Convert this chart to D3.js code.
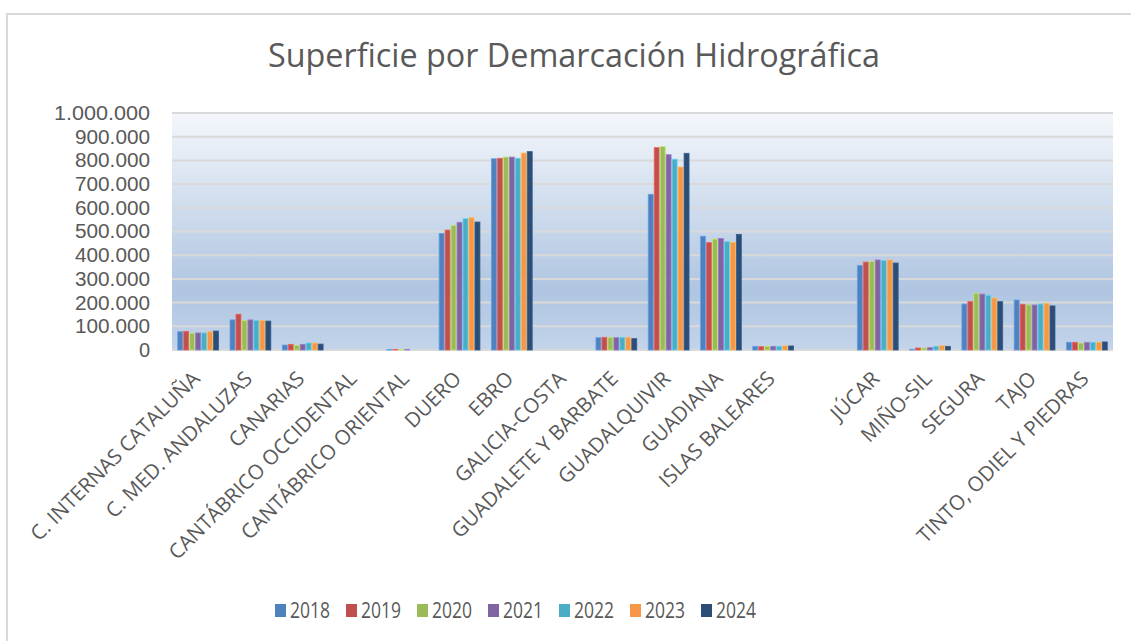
<!DOCTYPE html>
<html>
<head>
<meta charset="utf-8">
<script src="https://cdn.jsdelivr.net/npm/d3@7"></script>
<style>
  body { margin: 0; background: #fff; }
  svg { display: block; font-family: "Open Sans", sans-serif; }
</style>
</head>
<body>
<div id="chart"></div>
<script>
var categories = ["C. INTERNAS CATALUÑA", "C. MED. ANDALUZAS", "CANARIAS", "CANTÁBRICO OCCIDENTAL",
  "CANTÁBRICO ORIENTAL", "DUERO", "EBRO", "GALICIA-COSTA", "GUADALETE Y BARBATE", "GUADALQUIVIR",
  "GUADIANA", "ISLAS BALEARES", "", "JÚCAR", "MIÑO-SIL", "SEGURA", "TAJO", "TINTO, ODIEL Y PIEDRAS"];

var years = ["2018", "2019", "2020", "2021", "2022", "2023", "2024"];

var v2018 = [77000, 127000, 21000, 0, 2500, 492000, 807000, 0, 52000, 657000, 480000, 15500, 0, 357000, 3000, 194000, 211000, 32500];
var v2019 = [79000, 151000, 24000, 0, 2500, 506000, 809000, 0, 53500, 854000, 453000, 14000, 0, 371000, 8500, 204000, 193000, 32500];
var v2020 = [71000, 124000, 20000, 0, 2000, 526000, 814000, 0, 53500, 858000, 468000, 15500, 0, 374000, 8500, 240000, 190000, 29500];
var v2021 = [72000, 127000, 24000, 0, 2000, 539000, 814000, 0, 52000, 824000, 471000, 15500, 0, 380000, 10000, 236000, 190000, 32500];
var v2022 = [72000, 124000, 29500, 0, 0, 554000, 809000, 0, 53500, 805000, 457000, 15500, 0, 377000, 15500, 231000, 194000, 32500];
var v2023 = [77000, 124000, 29500, 0, 0, 558000, 831000, 0, 53500, 772000, 454000, 17000, 0, 380000, 18000, 219000, 197000, 32500];
var v2024 = [80000, 122000, 25000, 0, 0, 540000, 837000, 0, 48000, 830000, 488000, 17000, 0, 367000, 15500, 204000, 186000, 34000];

var yTicks = [0, 100000, 200000, 300000, 400000, 500000, 600000, 700000, 800000, 900000, 1000000];

var seriesValues = [v2018, v2019, v2020, v2021, v2022, v2023, v2024];
var colors = ["#4F81BD", "#C0504D", "#9BBB59", "#8064A2", "#4BACC6", "#F79646", "#2C4D75"];

var svgWidth = 1131, svgHeight = 641;
var margin = {top: 113, right: 18, bottom: 291, left: 172},
    width = svgWidth - margin.left - margin.right,
    height = svgHeight - margin.top - margin.bottom;

var textColor = "#595959";

var svg = d3.select("#chart").append("svg")
    .attr("width", svgWidth)
    .attr("height", svgHeight);

// outer frame (only left and top edges visible)
svg.append("path")
    .attr("d", "M7," + svgHeight + "V14H" + svgWidth)
    .attr("fill", "none")
    .attr("stroke", "#D9D9D9")
    .attr("stroke-width", 2);

// title
svg.append("text")
    .attr("x", 574)
    .attr("y", 67)
    .attr("text-anchor", "middle")
    .attr("font-size", 32)
    .attr("fill", textColor)
    .attr("textLength", 612)
    .attr("lengthAdjust", "spacingAndGlyphs")
    .text("Superficie por Demarcación Hidrográfica");

var defs = svg.append("defs");
var grad = defs.append("linearGradient")
    .attr("id", "bg")
    .attr("x1", 0).attr("y1", 0).attr("x2", 0).attr("y2", 1);
grad.append("stop").attr("offset", "0%").attr("stop-color", "#F4F7FB");
grad.append("stop").attr("offset", "75%").attr("stop-color", "#AFC5E1");
grad.append("stop").attr("offset", "100%").attr("stop-color", "#C3D4EA");

var g = svg.append("g")
    .attr("transform", "translate(" + margin.left + "," + margin.top + ")");

g.append("rect")
    .attr("width", width)
    .attr("height", height)
    .attr("fill", "url(#bg)");

var x0 = d3.scaleBand()
    .domain(categories)
    .range([0, width])
    .paddingInner(0.2)
    .paddingOuter(0.1);

var x1 = d3.scaleBand()
    .domain(years)
    .range([0, x0.bandwidth()])
    .padding(0);

var y = d3.scaleLinear()
    .domain([0, 1000000])
    .range([height, 0]);

var fmt = function(d) { return d3.format(",")(d).replace(/,/g, "."); };

// gridlines
g.selectAll(".grid")
    .data(yTicks)
    .enter().append("line")
    .attr("class", "grid")
    .attr("x1", 0)
    .attr("x2", width)
    .attr("y1", function(d) { return y(d); })
    .attr("y2", function(d) { return y(d); })
    .attr("stroke", "#D9D9D9")
    .attr("stroke-width", 2);

// y axis labels
var yAxis = d3.axisLeft(y)
    .tickValues(yTicks)
    .tickFormat(fmt)
    .tickSize(0)
    .tickPadding(22);

g.append("g")
    .attr("class", "y axis")
    .call(yAxis)
    .call(function(s) { s.select(".domain").remove(); })
    .selectAll("text")
    .attr("font-size", 20)
    .attr("font-family", "Liberation Sans")
    .attr("fill", textColor)
    .attr("textLength", function(d) { return d === 1000000 ? 96 : (d === 0 ? null : 75); })
    .attr("lengthAdjust", "spacingAndGlyphs");

// bars
var layer = g.selectAll(".layer")
    .data(seriesValues)
    .enter().append("g")
    .attr("class", "layer")
    .attr("fill", function(d, i) { return colors[i]; })
    .attr("stroke", function(d, i) { return d3.color(colors[i]).brighter(0.6); })
    .attr("stroke-width", 0.8);

layer.each(function(vals, si) {
    d3.select(this).selectAll("rect")
        .data(vals)
        .enter().append("rect")
        .attr("x", function(d, i) { return x0(categories[i]) + x1(years[si]) + 0.5; })
        .attr("y", function(d) { return y(d); })
        .attr("width", x1.bandwidth() - 1)
        .attr("height", function(d) { return height - y(d); })
        .attr("display", function(d) { return d > 0 ? null : "none"; });
});

// category labels
var xAxis = d3.axisBottom(x0)
    .tickSize(0)
    .tickPadding(0);

var xa = g.append("g")
    .attr("class", "x axis")
    .attr("transform", "translate(0," + height + ")")
    .call(xAxis);
xa.select(".domain").remove();
xa.selectAll("text")
    .attr("font-size", 20.5)
    .attr("font-family", "Open Sans")
    .attr("fill", textColor)
    .attr("text-anchor", "end")
    .attr("dy", 0)
    .attr("y", 0)
    .attr("transform", "translate(3,30) rotate(-45)");

// legend
var legend = svg.append("g")
    .attr("class", "legend")
    .attr("transform", "translate(275,604)");

var item = legend.selectAll(".item")
    .data(years)
    .enter().append("g")
    .attr("class", "item")
    .attr("transform", function(d, i) { return "translate(" + (i * 71) + ",0)"; });

item.append("rect")
    .attr("width", 11)
    .attr("height", 13)
    .attr("fill", function(d, i) { return colors[i]; });

item.append("text")
    .attr("x", 15)
    .attr("y", 14)
    .attr("font-size", 22)
    .attr("fill", textColor)
    .attr("textLength", 40)
    .attr("lengthAdjust", "spacingAndGlyphs")
    .text(function(d) { return d; });
</script>
</body>
</html>
